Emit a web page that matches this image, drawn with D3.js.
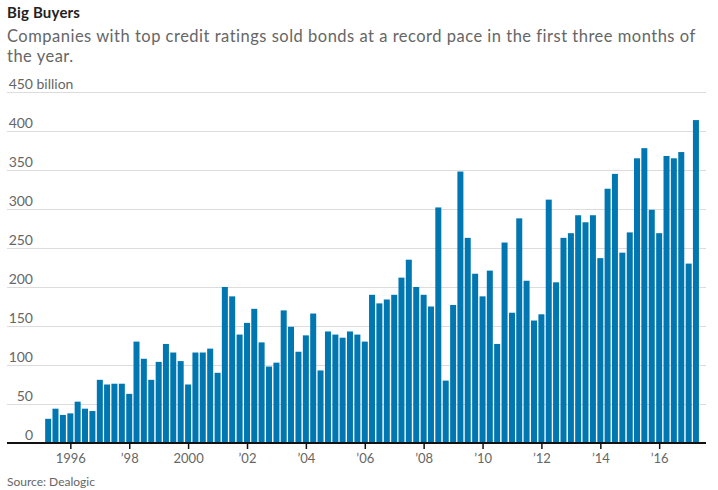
<!DOCTYPE html>
<html>
<head>
<meta charset="utf-8">
<script src="https://cdn.jsdelivr.net/npm/d3@7"></script>
<style>
  body { margin: 0; background: #fff; }
  svg { display: block; font-family: Lato, "Open Sans", sans-serif; }
</style>
</head>
<body>
<svg id="chart" width="718" height="490"></svg>
<script>
// quarterly issuance, billions of dollars
var years = [1995, 1996, 1997, 1998, 1999, 2000, 2001, 2002, 2003, 2004, 2005,
    2006, 2007, 2008, 2009, 2010, 2011, 2012, 2013, 2014, 2015, 2016, 2017];
var quarterNames = ["Q1", "Q2", "Q3", "Q4"];

var values = [
    31, 44, 36, 38,      // 1995
    53, 44, 41, 81,      // 1996
    75, 76, 76, 63,      // 1997
    130, 108, 81, 104,   // 1998
    127, 116, 105, 75,   // 1999
    116, 116, 121, 90,   // 2000
    200, 188, 139, 154,  // 2001
    172, 129, 98, 103,   // 2002
    170, 149, 117, 138,  // 2003
    166, 93, 143, 139,   // 2004
    135, 143, 139, 130,  // 2005
    190, 179, 184, 190,  // 2006
    212, 235, 200, 190,  // 2007
    175, 302, 80, 177,   // 2008
    348, 263, 217, 188,  // 2009
    221, 127, 257, 167,  // 2010
    288, 208, 157, 165,  // 2011
    312, 206, 263, 269,  // 2012
    292, 283, 292, 237,  // 2013
    326, 345, 244, 270,  // 2014
    365, 378, 299, 269,  // 2015
    368, 365, 373, 230,  // 2016
    414                  // 2017
];

var yTicks = [0, 50, 100, 150, 200, 250, 300, 350, 400, 450];
var xTickYears = [1996, 1998, 2000, 2002, 2004, 2006, 2008, 2010, 2012, 2014, 2016];
var xTickLabels = ["1996", "\u201998", "2000", "\u201902", "\u201904", "\u201906",
    "\u201908", "\u201910", "\u201912", "\u201914", "\u201916"];

var title = "Big Buyers";
var subtitle = ["Companies with top credit ratings sold bonds at a record pace in the first three months of",
    "the year."];
var source = "Source: Dealogic";

// build rows: each bar sits at the end of its quarter
var dataset = values.map(function (v, i) {
    var y = years[Math.floor(i / 4)], q = i % 4;
    return { label: y + " " + quarterNames[q], date: new Date(y, 3 * (q + 1), 1), value: v };
});

var svg = d3.select("#chart");

var left = 7, right = 706, baseline = 443;

var xScale = d3.scaleTime()
    .domain([new Date(1995, 0, 1), new Date(2018, 0, 1)])
    .range([40.9, 718.1]);
var yScale = d3.scaleLinear()
    .domain([0, 450])
    .range([baseline, 92]);

// titles
svg.append("text")
    .attr("x", 7).attr("y", 17.5)
    .style("font-size", "15px").style("font-weight", "bold").style("fill", "#222")
    .style("letter-spacing", "0.2px")
    .text(title);

svg.append("g").selectAll("text")
    .data(subtitle).enter().append("text")
    .attr("x", 7)
    .attr("y", function (d, i) { return 42 + i * 20; })
    .style("font-size", "16.5px").style("fill", "#666")
    .style("letter-spacing", "0.5px")
    .text(function (d) { return d; });

// gridlines + y labels
var grid = svg.append("g");
grid.selectAll("line")
    .data(yTicks.filter(function (d) { return d > 0; }))
    .enter().append("line")
    .attr("x1", left).attr("x2", right)
    .attr("y1", function (d) { return Math.round(yScale(d)) + 0.5; })
    .attr("y2", function (d) { return Math.round(yScale(d)) + 0.5; })
    .style("stroke", "#dcdcdc").style("stroke-width", 1);

grid.selectAll("text")
    .data(yTicks).enter().append("text")
    .attr("x", 33)
    .attr("y", function (d) { return yScale(d) - 3.5; })
    .attr("text-anchor", "end")
    .style("font-size", "14px").style("fill", "#666")
    .text(function (d) { return d; });

grid.append("text")
    .attr("x", 36.5).attr("y", yScale(450) - 3.5)
    .style("font-size", "14px").style("fill", "#666")
    .text("billion");

// bars
var barW = 6;
svg.append("g")
    .selectAll("rect")
    .data(dataset)
    .enter()
    .append("rect")
    .attr("x", function (d) { return xScale(d.date) - barW / 2; })
    .attr("y", function (d) { return yScale(d.value); })
    .attr("width", barW)
    .attr("height", function (d) { return baseline - yScale(d.value); })
    .style("fill", "#0077b0");

// x axis
var xAxis = d3.axisBottom(xScale)
    .tickValues(xTickYears.map(function (y) { return new Date(y, 0, 1); }))
    .tickSize(6)
    .tickPadding(5)
    .tickFormat(function (d, i) { return xTickLabels[i]; });

var gx = svg.append("g")
    .attr("transform", "translate(0," + baseline + ")")
    .call(xAxis);
gx.select(".domain").remove();
gx.selectAll(".tick line").style("stroke", "#111").style("stroke-width", 1.5);
gx.selectAll(".tick text")
    .style("font-family", "Lato, sans-serif")
    .style("font-size", "13px").style("fill", "#666");

svg.append("line")
    .attr("x1", left).attr("x2", right)
    .attr("y1", baseline).attr("y2", baseline)
    .style("stroke", "#111").style("stroke-width", 2);

// source
svg.append("text")
    .attr("x", 7).attr("y", 486)
    .style("font-size", "12px").style("fill", "#666")
    .text(source);
</script>
</body>
</html>
